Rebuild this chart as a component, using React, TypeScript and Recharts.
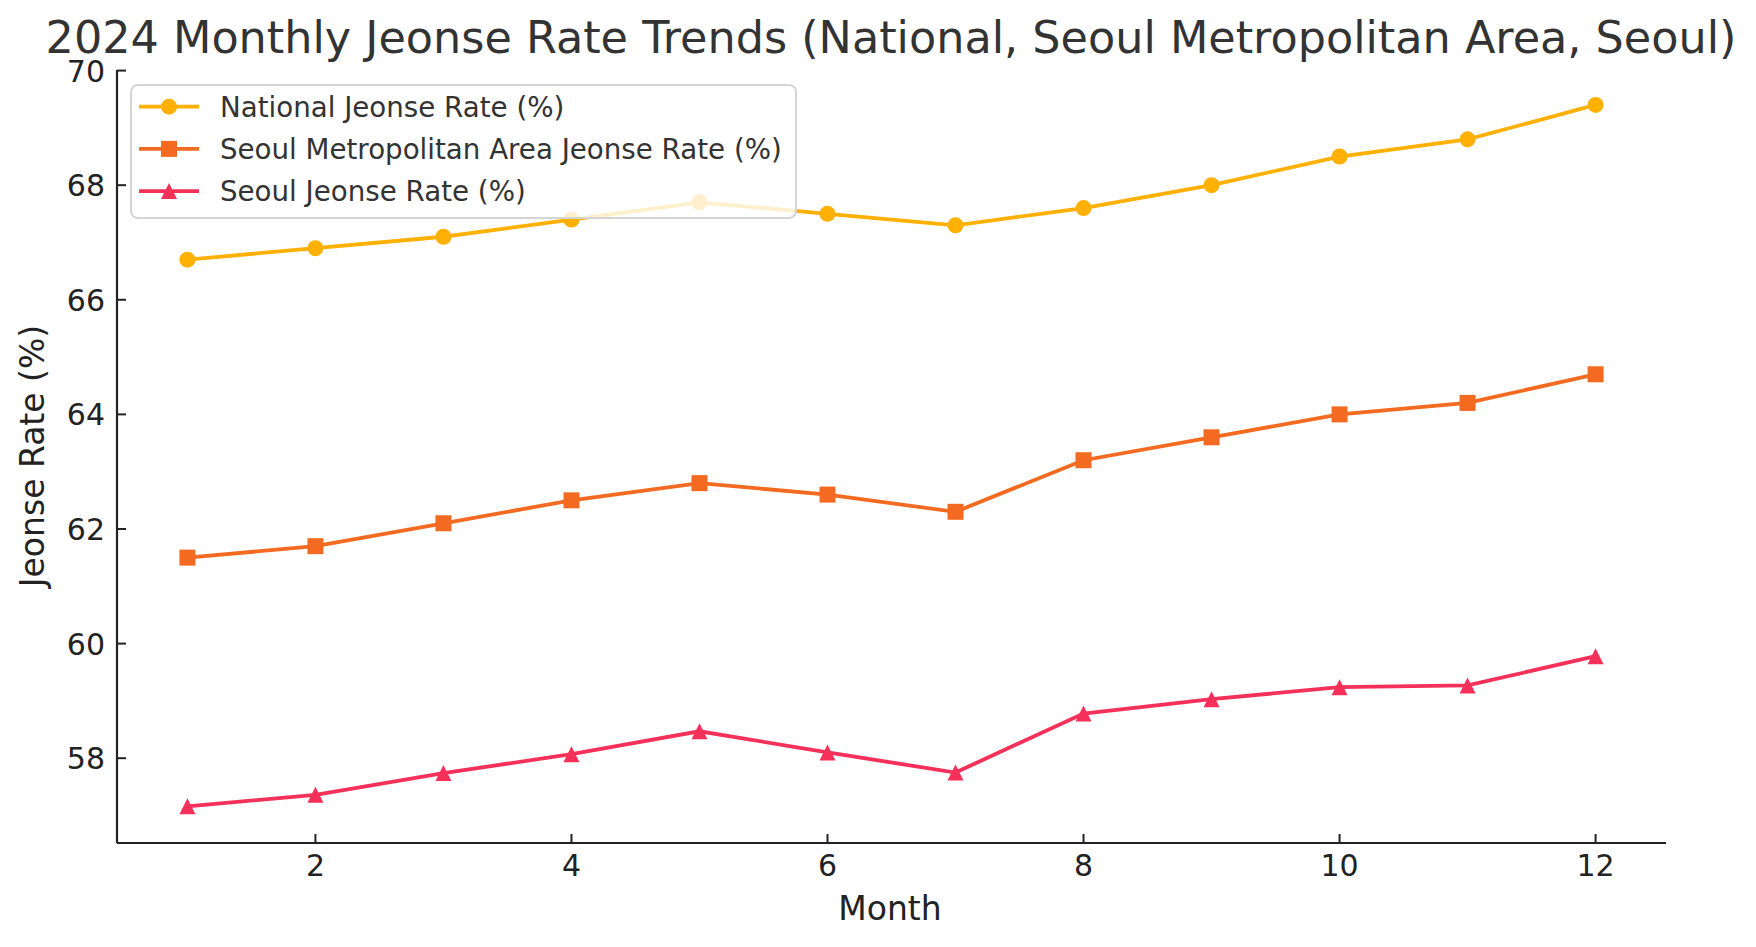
import React from 'react';
import { LineChart, Line, XAxis, YAxis } from 'recharts';

const chartTitle = '2024 Monthly Jeonse Rate Trends (National, Seoul Metropolitan Area, Seoul)';
const xAxisLabel = 'Month';
const yAxisLabel = 'Jeonse Rate (%)';

const months = [1, 2, 3, 4, 5, 6, 7, 8, 9, 10, 11, 12];
const nationalRate = [66.7, 66.9, 67.1, 67.4, 67.7, 67.5, 67.3, 67.6, 68.0, 68.5, 68.8, 69.4];
const metroRate = [61.5, 61.7, 62.1, 62.5, 62.8, 62.6, 62.3, 63.2, 63.6, 64.0, 64.2, 64.7];
const seoulRate = [57.16, 57.36, 57.74, 58.07, 58.47, 58.1, 57.75, 58.78, 59.03, 59.24, 59.27, 59.78];

const xTicks = [2, 4, 6, 8, 10, 12];
const yTicks = [58, 60, 62, 64, 66, 68, 70];
const xDomain = [0.45, 12.55];
const yDomain = [56.52, 70.01];

const seriesKeys = ['national', 'metro', 'seoul'];
const seriesNames = [
  'National Jeonse Rate (%)',
  'Seoul Metropolitan Area Jeonse Rate (%)',
  'Seoul Jeonse Rate (%)',
];
const seriesColors = ['#FFB000', '#F46A21', '#F5315A'];
const seriesMarkers = ['circle', 'square', 'triangle'];

const data = months.map((m, i) => ({
  month: m,
  national: nationalRate[i],
  metro: metroRate[i],
  seoul: seoulRate[i],
}));

const FONT = '"DejaVu Sans", sans-serif';
const AXIS_COLOR = '#222222';
const TEXT_COLOR = '#222222';

function markerShape(kind: string, color: string, cx: number, cy: number, size: number, key?: string) {
  const h = size / 2;
  if (kind === 'circle') return <circle key={key} cx={cx} cy={cy} r={h} fill={color} />;
  if (kind === 'square') return <rect key={key} x={cx - h} y={cy - h} width={size} height={size} fill={color} />;
  return (
    <polygon
      key={key}
      points={`${cx},${cy - h} ${cx - h},${cy + h} ${cx + h},${cy + h}`}
      fill={color}
    />
  );
}

const makeDot = (kind: string, color: string) => (props: any) => {
  const { cx, cy, index } = props;
  if (cx == null || cy == null) return <g key={`e-${kind}-${index}`} />;
  return markerShape(kind, color, cx, cy, 16, `d-${kind}-${index}`);
};

const XTick = (props: any) => {
  const { x, y, payload } = props;
  return (
    <g>
      <line x1={x} x2={x} y1={y} y2={y - 9} stroke={AXIS_COLOR} strokeWidth={2} />
      <text x={x} y={y + 33} textAnchor="middle" fontSize={30} fill={TEXT_COLOR} fontFamily={FONT}>
        {payload.value}
      </text>
    </g>
  );
};

const YTick = (props: any) => {
  const { x, y, payload } = props;
  return (
    <g>
      <line x1={x} x2={x + 9} y1={y} y2={y} stroke={AXIS_COLOR} strokeWidth={2} />
      <text x={x - 12} y={y + 11} textAnchor="end" fontSize={30} fill={TEXT_COLOR} fontFamily={FONT}>
        {payload.value}
      </text>
    </g>
  );
};

export default function App() {
  return (
    <div
      style={{
        position: 'absolute',
        left: 0,
        top: 0,
        width: 1756,
        height: 947,
        background: '#ffffff',
        fontFamily: FONT,
      }}
    >
      <LineChart
        width={1756}
        height={947}
        data={data}
        margin={{ top: 70, right: 90, bottom: 44, left: 17 }}
      >
        <XAxis
          dataKey="month"
          type="number"
          domain={xDomain}
          ticks={xTicks}
          allowDataOverflow
          height={60}
          tickSize={0}
          tickMargin={0}
          tickLine={false}
          axisLine={{ stroke: AXIS_COLOR, strokeWidth: 2.2 }}
          tick={<XTick />}
        />
        <YAxis
          type="number"
          domain={yDomain}
          ticks={yTicks}
          allowDataOverflow
          width={100}
          tickSize={0}
          tickMargin={0}
          tickLine={false}
          axisLine={{ stroke: AXIS_COLOR, strokeWidth: 2.2 }}
          tick={<YTick />}
        />
        {seriesKeys.map((k, i) => (
          <Line
            key={k}
            dataKey={k}
            name={seriesNames[i]}
            type="linear"
            stroke={seriesColors[i]}
            strokeWidth={3.8}
            dot={makeDot(seriesMarkers[i], seriesColors[i])}
            activeDot={false}
            isAnimationActive={false}
          />
        ))}
      </LineChart>
      <svg
        width={1756}
        height={947}
        style={{ position: 'absolute', left: 0, top: 0, pointerEvents: 'none' }}
      >
        <text x={891} y={53} textAnchor="middle" fontSize={44.5} fill="#333333" fontFamily={FONT}>
          {chartTitle}
        </text>
        <text x={890} y={920} textAnchor="middle" fontSize={33} fill={TEXT_COLOR} fontFamily={FONT}>
          {xAxisLabel}
        </text>
        <text
          x={32}
          y={456}
          textAnchor="middle"
          dominantBaseline="central"
          transform="rotate(-90, 32, 456)"
          fontSize={33}
          fill={TEXT_COLOR}
          fontFamily={FONT}
        >
          {yAxisLabel}
        </text>
        <rect
          x={131}
          y={85}
          width={665}
          height={133}
          rx={7}
          ry={7}
          fill="#ffffff"
          fillOpacity={0.8}
          stroke="#d4d4d4"
          strokeWidth={2}
        />
        {seriesNames.map((name, i) => {
          const cy = 106.7 + 42.2 * i;
          return (
            <g key={name}>
              <line x1={139} x2={199} y1={cy} y2={cy} stroke={seriesColors[i]} strokeWidth={3.8} />
              {markerShape(seriesMarkers[i], seriesColors[i], 169, cy, 16)}
              <text x={220} y={cy + 10} fontSize={27.7} fill="#333333" fontFamily={FONT}>
                {name}
              </text>
            </g>
          );
        })}
      </svg>
    </div>
  );
}
